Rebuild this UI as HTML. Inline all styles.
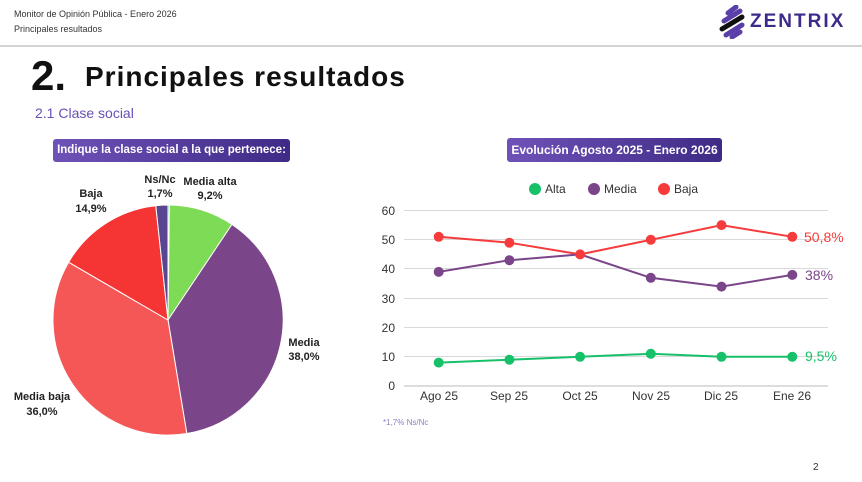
<!DOCTYPE html>
<html><head><meta charset="utf-8"><style>
body{margin:0;width:862px;height:482px;background:#fff;font-family:"Liberation Sans",sans-serif;overflow:hidden;position:relative}
.a{position:absolute;white-space:nowrap}
</style></head><body>
<div class="a" style="left:14px;top:9px;font-size:9px;color:#333">Monitor de Opinión Pública - Enero 2026</div>
<div class="a" style="left:14px;top:24px;font-size:9px;color:#333">Principales resultados</div>
<div class="a" style="left:0;top:45px;width:862px;height:2px;background:#d4d4d4"></div>
<svg class="a" style="left:718px;top:5px" width="30" height="34" viewBox="0 0 30 34">
<g stroke-width="5" stroke-linecap="round"><line x1="10" y1="8" x2="18" y2="2" stroke="#5b3fa8"/><line x1="6" y1="16" x2="22" y2="6" stroke="#5b3fa8"/><line x1="4" y1="24" x2="24" y2="12" stroke="#111"/><line x1="8" y1="30" x2="24" y2="20" stroke="#5b3fa8"/><line x1="14" y1="32" x2="22" y2="27" stroke="#5b3fa8"/></g></svg>
<div class="a" style="left:750px;top:11px;font-size:19px;font-weight:bold;color:#3d2a8a;letter-spacing:2px">ZENTRIX</div>
<div class="a" style="left:31px;top:52px;font-size:42px;font-weight:bold;color:#111">2.</div>
<div class="a" style="left:85px;top:61px;font-size:28px;font-weight:bold;color:#111;letter-spacing:1px">Principales resultados</div>
<div class="a" style="left:35px;top:105px;font-size:14px;color:#6a4fb5">2.1 Clase social</div>
<div class="a" style="left:53px;top:139px;width:237px;height:23px;border-radius:3px;background:linear-gradient(90deg,#6f52b8,#3f2a86);color:#fff;font-size:11.5px;font-weight:bold;line-height:23px;text-align:center">Indique la clase social a la que pertenece:</div>
<div class="a" style="left:507px;top:138px;width:215px;height:24px;border-radius:3px;background:linear-gradient(90deg,#6f52b8,#3f2a86);color:#fff;font-size:12px;font-weight:bold;line-height:24px;text-align:center">Evolución Agosto 2025 - Enero 2026</div>
<svg class="a" style="left:0;top:0" width="862" height="482">
<g stroke="#fff" stroke-width="1">
<path d="M168,320 L168,205 A115,115 0 0 1 169.4,205 Z" fill="#1aa37a"/>
<path d="M168,320 L169.4,205 A115,115 0 0 1 232,224.4 Z" fill="#7ddb55"/>
<path d="M168,320 L232,224.4 A115,115 0 0 1 186.8,433.5 Z" fill="#7a4589"/>
<path d="M168,320 L186.8,433.5 A115,115 0 0 1 68.6,262.2 Z" fill="#f55656"/>
<path d="M168,320 L68.6,262.2 A115,115 0 0 1 155.8,205.7 Z" fill="#f53434"/>
<path d="M168,320 L155.8,205.7 A115,115 0 0 1 168,205 Z" fill="#5a4590"/>
</g>
<g font-size="11" font-weight="bold" fill="#222" text-anchor="middle">
<text x="160" y="183">Ns/Nc</text><text x="160" y="197">1,7%</text>
<text x="210" y="185">Media alta</text><text x="210" y="199">9,2%</text>
<text x="91" y="197">Baja</text><text x="91" y="212">14,9%</text>
<text x="304" y="346">Media</text><text x="304" y="360">38,0%</text>
<text x="42" y="400">Media baja</text><text x="42" y="415">36,0%</text>
</g>
<g stroke="#d9d9d9" stroke-width="1">
<line x1="404" y1="210.5" x2="828" y2="210.5"/><line x1="404" y1="239.5" x2="828" y2="239.5"/><line x1="404" y1="268.5" x2="828" y2="268.5"/><line x1="404" y1="298.5" x2="828" y2="298.5"/><line x1="404" y1="327.5" x2="828" y2="327.5"/><line x1="404" y1="356.5" x2="828" y2="356.5"/></g>
<line x1="404" y1="386" x2="828" y2="386" stroke="#bbb"/>
<g font-size="12" fill="#333" text-anchor="end">
<text x="395" y="215">60</text><text x="395" y="244">50</text><text x="395" y="273">40</text><text x="395" y="303">30</text><text x="395" y="332">20</text><text x="395" y="361">10</text><text x="395" y="390">0</text></g>
<g font-size="12" fill="#333" text-anchor="middle">
<text x="439" y="400">Ago 25</text><text x="509" y="400">Sep 25</text><text x="580" y="400">Oct 25</text><text x="651" y="400">Nov 25</text><text x="721" y="400">Dic 25</text><text x="792" y="400">Ene 26</text></g>
<circle cx="535" cy="189" r="6" fill="#17c16a"/><text x="545" y="193" font-size="12" fill="#333">Alta</text>
<circle cx="594" cy="189" r="6" fill="#7a4589"/><text x="604" y="193" font-size="12" fill="#333">Media</text>
<circle cx="664" cy="189" r="6" fill="#f53b3b"/><text x="674" y="193" font-size="12" fill="#333">Baja</text>
<polyline points="438.7,236.8 509.4,242.7 580.1,254.4 650.8,239.8 721.5,225.1 792.3,236.8" fill="none" stroke="#f53b3b" stroke-width="2"/>
<polyline points="438.7,271.9 509.4,260.2 580.1,254.4 650.8,277.8 721.5,286.6 792.3,274.9" fill="none" stroke="#7a4589" stroke-width="2"/>
<polyline points="438.7,362.6 509.4,359.7 580.1,356.8 650.8,353.8 721.5,356.8 792.3,356.8" fill="none" stroke="#17c16a" stroke-width="2"/>
<g fill="#7a4589"><circle cx="438.7" cy="271.9" r="5"/><circle cx="509.4" cy="260.2" r="5"/><circle cx="650.8" cy="277.8" r="5"/><circle cx="721.5" cy="286.6" r="5"/><circle cx="792.3" cy="274.9" r="5"/></g>
<g fill="#f53b3b"><circle cx="438.7" cy="236.8" r="5"/><circle cx="509.4" cy="242.7" r="5"/><circle cx="580.1" cy="254.4" r="5"/><circle cx="650.8" cy="239.8" r="5"/><circle cx="721.5" cy="225.1" r="5"/><circle cx="792.3" cy="236.8" r="5"/></g>
<g fill="#17c16a"><circle cx="438.7" cy="362.6" r="5"/><circle cx="509.4" cy="359.7" r="5"/><circle cx="580.1" cy="356.8" r="5"/><circle cx="650.8" cy="353.8" r="5"/><circle cx="721.5" cy="356.8" r="5"/><circle cx="792.3" cy="356.8" r="5"/></g>
<text x="804" y="242" font-size="14" fill="#f53b3b">50,8%</text>
<text x="805" y="280" font-size="14" fill="#7a4589">38%</text>
<text x="805" y="361" font-size="14" fill="#17c16a">9,5%</text>
<text x="383" y="425" font-size="8" fill="#8a7fc0">*1,7% Ns/Nc</text>
<text x="813" y="470" font-size="10" fill="#333">2</text>
</svg>
</body></html>
